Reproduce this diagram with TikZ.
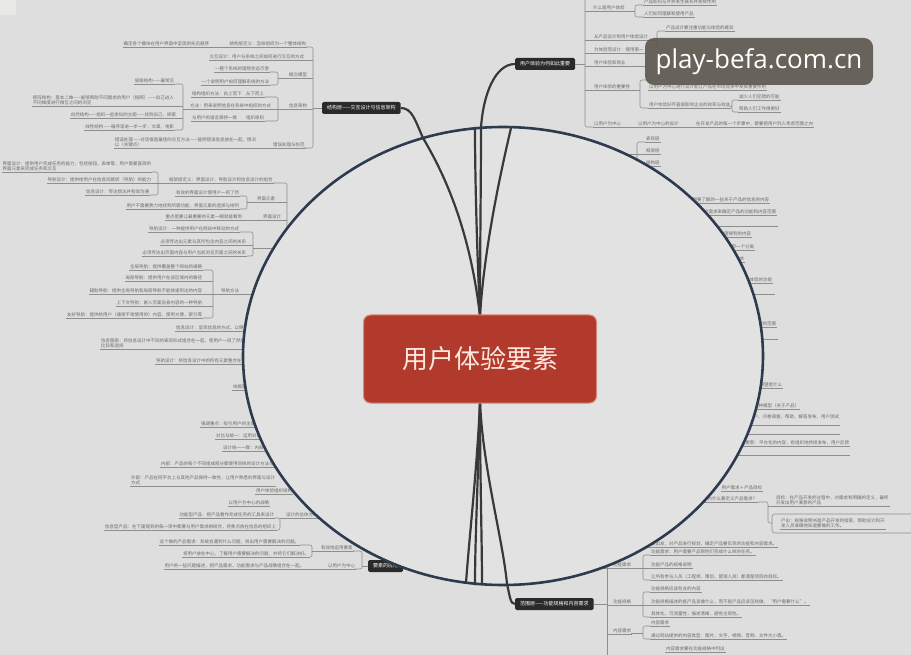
\documentclass[tikz,border=0pt]{standalone}
\usepackage{fontspec}
\newfontfamily\cjkf{Noto Sans CJK SC}
\newfontfamily\wmfont{Open Sans}
\definecolor{bg}{HTML}{DEDEDE}
\definecolor{patch}{HTML}{E8E8E5}
\definecolor{inbg}{HTML}{E2E2E2}
\definecolor{lftext}{HTML}{6A6A6A}
\definecolor{lfline}{HTML}{8E8E8E}
\definecolor{ringc}{HTML}{2E3B4E}
\definecolor{corered}{HTML}{B13A2C}
\definecolor{coreedge}{HTML}{D98A7E}
\definecolor{corewhite}{HTML}{FDE8E0}
\definecolor{dboxc}{HTML}{2A2A2A}
\definecolor{branchc}{HTML}{393939}
\definecolor{wmc}{HTML}{5E5950}
\tikzset{
 uline/.style={draw=lfline,line width=0.55pt},
 lf/.style={font=\cjkf\fontsize{4.5}{5.4}\selectfont, text=lftext, inner sep=0.8pt, align=left,
   append after command={(\tikzlastnode.south west) edge[uline] (\tikzlastnode.south east)}},
 mline/.style={draw=lfline,line width=0.55pt,rounded corners=2pt},
 dbox/.style={fill=dboxc, text=white, font=\cjkf\fontsize{5}{6}\selectfont, inner xsep=5pt, minimum height=12pt, rounded corners=1.5pt, anchor=west},
 branch/.style={draw=branchc, line width=2.2pt},
}
\newcommand\lfL[3]{\node[lf,anchor=south east] at (#1,#2) {#3};}
\newcommand\lfR[3]{\node[lf,anchor=south west] at (#1,#2) {#3};}
\begin{document}
\begin{tikzpicture}[x=1pt,y=-1pt]
\useasboundingbox (0,0) rectangle (911,655);
\fill[bg] (0,0) rectangle (911,655);
\fill[patch] (0,0) rectangle (16,15);

% ---- 结构层 branch
\lfL{210}{47}{确定各个模块在用户界面中呈现的先后顺序}
\lfL{307}{47}{结构层定义：怎样组织为一个整体结构}
\draw[uline] (210,47) -- (230,47);
\lfL{305}{60}{交互设计：用户与系统之间如何进行交互的方式}
\lfL{270}{72}{一整个系统的理想状态示意}
\lfL{270}{85}{一个说明用户如何理解系统的方法}
\draw[mline] (270,72) -- (278,72) -- (278,85) -- (270,85);
\draw[uline] (278,78) -- (288,78);
\lfR{288}{78}{概念模型}
\lfL{265}{97}{结构组织方法：自上而下　从下而上}
\lfL{272}{109}{方法：用来说明信息在系统中组织的方式}
\lfL{265}{121}{与用户的语言保持一致　　组织原则}
\draw[mline] (265,97) -- (278,97) -- (278,121) -- (265,121);
\draw[uline] (272,109) -- (288,109);
\lfR{288}{109}{信息架构}
\lfL{175}{84}{层级结构——最常见}
\lfL{175}{106}{矩阵结构：基本二维——能够帮助不同需求的用户（按照）——自己进入\\不同维度进行相互之间的浏览}
\lfL{177}{118}{自然结构——组织一些类似的主题——找到自己，探索}
\lfL{175}{130}{线性结构——循序渐进一步一步，文章，电影}
\draw[mline] (175,84) -- (183,84) -- (183,130) -- (175,130);
\draw[uline] (175,106) -- (183,106) (177,118) -- (183,118) (183,109) -- (193,109);
\lfL{257}{148}{错误处理——对话框是最佳的交互方法——能把错误信息放在一起，情况\\以（关键点）}
\lfR{272}{148}{错误处理与防范}
\draw[uline] (257,148) -- (272,148);
\draw[mline] (307,47) -- (313,47) -- (313,148) -- (304,148);
\draw[uline] (305,60) -- (313,60) (306,78) -- (313,78) (306,109) -- (313,109) (313,108) -- (322,108);
\node[dbox] (jg) at (322,108) {结构层——交互设计与信息架构};

% ---- 用户体验为何如此重要 branch
\draw[mline] (585,-5) -- (585,127) -- (593,127);
\node[dbox] (why) at (515,64) {用户体验为何如此重要};
\draw[uline] (why.east) -- (585,64);
\lfR{592}{11}{什么是用户体验}
\draw[uline] (585,11) -- (592,11) (624,11) -- (635,11);
\draw[mline] (643,5) -- (635,5) -- (635,17) -- (643,17);
\lfR{643}{5}{产品如何与外界发生联系并发挥作用}
\lfR{643}{17}{人们如何理解和使用产品}
\lfR{593}{40}{从产品设计到用户体验设计}
\draw[uline] (585,40) -- (593,40) (647,40) -- (657,40);
\draw[mline] (665,31) -- (657,31) -- (657,48) -- (665,48);
\lfR{665}{31}{产品设计要注重功能与体验的差异}
\lfR{593}{53}{为体验而设计：使用第一}
\lfR{593}{66}{用户体验和商业}
\draw[uline] (585,53) -- (593,53) (585,66) -- (593,66) (625,66) -- (648,66);
\lfR{593}{90}{用户体验的重要性}
\draw[uline] (585,90) -- (593,90) (629,90) -- (640,90);
\draw[mline] (648,80) -- (640,80) -- (640,108) -- (648,108);
\lfR{648}{90}{以用户为中心进行设计能让产品在市场竞争中发挥重要作用}
\lfR{648}{108}{用户体验好坏直接影响企业的效率与效益}
\draw[mline] (738,100) -- (732,100) -- (732,112) -- (738,112);
\draw[uline] (730,106) -- (732,106);
\lfR{738}{100}{减少人们犯错的可能}
\lfR{738}{112}{帮助人们工作得更好}
\lfR{593}{127}{以用户为中心}
\lfR{637}{127}{以用户为中心的设计}
\lfR{695}{127}{在开发产品的每一个步骤中，都要把用户列入考虑范围之内}
\draw[uline] (620,127) -- (637,127) (678,127) -- (695,127);

% ---- right side near ring
\draw[mline] (645,142) -- (637,142) -- (637,166) -- (645,166);
\draw[uline] (620,154) -- (645,154);
\lfR{645}{142}{表现层}
\lfR{645}{154}{框架层}
\lfR{645}{166}{结构层}
\lfL{770}{203}{用户可以在这里找到他们想要了解的一些关于产品的信息的内容}
\lfL{777}{215}{需要根据产品的目标和用户需求来确定产品的功能和内容范围}
\draw[uline] (690,226) -- (778,226);
\lfL{752}{237}{是用户最希望得到的内容}
\lfL{755}{250}{以及它们之间的区别与联系，即一个分离}
\lfL{745}{262}{功能规格和内容需求}
\lfL{773}{283}{一些能提升用户体验的功能}
\draw[uline] (700,294) -- (775,294);
\lfL{777}{327}{产品的功能和内容的范围}
\draw[uline] (720,339) -- (778,339);
\lfL{783}{388}{用户的期望是什么}
\lfL{800}{409}{三种模型（关于产品）}
\lfL{840}{425}{访问用户、问卷调查、帮助、解答发布、用户测试\\统计}
\draw[uline] (720,434) -- (840,434);
\lfL{850}{446}{持续更新：平台化的内容，有组织地持续发布，用户反馈}
\draw[uline] (700,455) -- (850,455);
\lfL{763}{491}{用户需求＋产品目标}
\lfL{758}{502}{如何确定需求——为什么要定义产品需求？}
\draw[mline] (758,502) -- (768,502) -- (768,523) -- (772,523);
\draw[uline] (768,506) -- (775,506);
\lfR{775}{506}{目标：在产品开发的过程中，对需求有明确的定义，最终\\开发出用户满意的产品}
\draw[mline,rounded corners=3pt] (772,514) rectangle (930,533);
\lfR{780}{529}{产出：规格说明书是产品开发的指南，帮助设计和开\\发人员准确地知道要做的工作。}
\lfL{778}{547}{我们要从产品的角度出发，对产品进行规划，确定产品要实现的功能和内容需求。}

% ---- 范围层 branch
\node[dbox] (fw) at (515,604) {范围层——功能规格和内容需求};
\draw[mline] (607,566) -- (607,660);
\draw[uline] (fw.east) -- (607,604);
\draw[uline] (590,568) -- (612,568) (631,568) -- (643,568);
\lfR{612}{568}{功能需求}
\draw[mline] (650,555) -- (643,555) -- (643,580) -- (650,580);
\lfR{650}{555}{功能需求：用户需要产品帮他们完成什么样的任务。}
\lfR{650}{568}{功能产品的规格说明}
\draw[uline] (643,568) -- (650,568);
\lfR{650}{580}{让所有参与人员（工程师、策划、营销人员）都清楚项目的目标。}
\lfR{612}{605}{功能规格}
\draw[uline] (607,605) -- (612,605) (631,605) -- (650,605);
\draw[mline] (650,592) -- (643,592) -- (643,617) -- (650,617);
\lfR{650}{592}{功能规格应该包含的内容}
\lfR{650}{605}{功能规格描述的是产品该做什么，而不是产品应该怎样做，“用户需要什么”。}
\lfR{650}{617}{具体化，可测量性，描述清晰，避免主观性。}
\lfR{612}{634}{内容需求}
\draw[uline] (607,634) -- (612,634) (631,633) -- (643,633);
\draw[mline] (650,626) -- (643,626) -- (643,639) -- (650,639);
\lfR{650}{626}{内容需求}
\lfR{650}{639}{通过网站提供的内容类型：图片、文字、视频、音频、文件大小等。}
\lfR{665}{652}{内容需求要在功能规格中列出}

% ---- 框架层 (left middle)
\lfL{152}{172}{界面设计：提供用户完成任务的能力，包括按钮、表单等，用户需要直观的\\界面元素来完成任务和交互}
\lfL{152}{183}{导航设计：提供给用户在信息间跳转（导航）的能力}
\lfL{150}{195}{信息设计：传达想法并有效沟通}
\draw[mline] (152,172) -- (158,172) -- (158,195) -- (150,195);
\draw[uline] (152,183) -- (168,183);
\lfR{168}{183}{框架层定义：界面设计、导航设计和信息设计的组合}
\draw[mline] (273,183) -- (287,183) -- (287,240);
\lfL{240}{196}{有效的界面设计使用户一目了然}
\lfL{240}{209}{用户不需要费力地找到所需功能，界面元素的选择与排列}
\draw[mline] (240,196) -- (247,196) -- (247,209) -- (240,209);
\draw[uline] (247,202) -- (256,202) (276,202) -- (287,202);
\lfR{256}{202}{界面元素}
\lfL{243}{220}{重点是要让最重要的元素一眼就能看到}
\lfR{262}{220}{界面设计}
\draw[uline] (243,220) -- (262,220) (281,220) -- (287,220);
\lfL{240}{232}{导航设计：一种提供用户在网站中移动的方式}
\lfL{247}{245}{必须传达出元素与其所包含内容之间的关系}
\lfL{247}{256}{必须传达出页面内容与用户当前浏览页面之间的关系}
\draw[mline] (240,232) -- (253,232) -- (253,256) -- (247,256);
\draw[uline] (247,245) -- (253,245) (253,248) -- (290,248);
\lfL{203}{270}{全局导航：提供覆盖整个网站的通路}
\lfL{203}{281}{局部导航：提供用户在该区域内的路径}
\lfL{203}{294}{辅助导航：提供全局导航和局部导航不能快速到达的内容}
\lfL{203}{306}{上下文导航：嵌入页面自身内容的一种导航}
\lfL{203}{318}{友好导航：提供给用户（通常不常使用的）内容，使用方便，索引等}
\draw[mline] (203,270) -- (213,270) -- (213,318) -- (203,318);
\draw[uline] (203,281) -- (213,281) (203,294) -- (220,294) (203,306) -- (213,306);
\lfR{220}{294}{导航方法}
\draw[uline] (240,294) -- (270,294);
\lfR{175}{331}{信息设计：呈现信息的方式，以便用户理解，有效地}
\lfR{100}{349}{信息图表：将信息设计中不同的表现形式组合在一起，使用户一目了然地进行\\比较和选择}
\lfR{155}{364}{导航设计：将信息设计中的所有元素整合在一起}
\lfR{232}{390}{线框图：整合三者}
\lfR{200}{427}{强调重点：吸引用户的注意力}
\lfR{215}{439}{对比与统一：运用对比来吸引用户}
\lfR{222}{451}{设计统一一致：内部与外部}
\lfR{160}{467}{内部：产品的每个不同组成部分都使用同样的设计方法与风格}
\lfR{130}{486}{外部：产品在同平台上与其他产品保持一致性，让用户熟悉的界面与设计\\方式}

% ---- 要素的应用 (lower left)
\lfR{255}{494}{用户体验组织结构}
\lfL{270}{506}{以用户为中心的战略}
\lfL{275}{518}{功能型产品：把产品看作完成任务的工具来设计}
\lfL{277}{530}{信息型产品：在下面提到的每一项中都要与用户需求相结合，将焦点放在信息的组织上}
\draw[mline] (275,518) -- (280,518) -- (280,530) -- (277,530);
\draw[uline] (280,518) -- (285,518);
\lfR{285}{518}{设计的总体方向}
\lfL{300}{545}{这个做的产品需求：系统会遇到什么问题，找出用户需要解决的问题。}
\lfL{310}{557}{将用户放在中心，了解用户需要解决的问题，并将它们解决好。}
\lfL{305}{569}{用户的一些问题描述，把产品需求、功能需求与产品战略组合在一起。}
\draw[mline] (300,545) -- (312,545) -- (312,557) -- (310,557);
\draw[uline] (312,551) -- (320,551) (305,569) -- (327,569);
\lfR{320}{551}{有效地运用要素}
\lfR{327}{569}{以用户为中心}
\draw[mline] (353,551) -- (362,551) -- (362,569) -- (355,569);
\draw[uline] (362,566) -- (368,566);
\node[dbox] (app) at (368,566) {要素的应用};

% ---- ring cover
\path[fill=inbg] (503,356) ellipse [x radius=260pt, y radius=229pt];

% ---- main branches
\coordinate (ctop) at (480,316);
\coordinate (cbot) at (480,402);
\draw[branch] (ctop) .. controls (470,230) and (445,175) .. (423,138) .. controls (415,120) and (412,108) .. (jg.east);
\draw[branch] (ctop) .. controls (477,250) and (475,180) .. (475,128);
\draw[branch] (ctop) .. controls (480,250) and (481,180) .. (481,128) .. controls (483,95) and (495,64) .. (why.west);
\draw[branch] (ctop) .. controls (484,250) and (500,175) .. (511,128);
\draw[branch] (cbot) .. controls (477,470) and (469,540) .. (466,583);
\draw[branch] (cbot) .. controls (478,480) and (475,540) .. (475,585);
\draw[branch] (cbot) .. controls (480,480) and (482,540) .. (482,585);
\draw[branch] (cbot) .. controls (483,470) and (503,540) .. (507,584) .. controls (510,596) and (510,604) .. (fw.west);

% ---- ring outline
\draw[ringc, line width=2.6pt] (503,356) ellipse [x radius=260pt, y radius=229pt];

% ---- central topic
\node[fill=corered, draw=coreedge, line width=1pt, rounded corners=7pt, minimum width=233pt, minimum height=88pt, text=corewhite, font=\cjkf\fontsize{26}{30}\selectfont] (core) at (480,359) {用户体验要素};

% ---- watermark
\node[fill=wmc, fill opacity=0.93, text opacity=1, rounded corners=9pt, minimum width=228pt, minimum height=47pt, text=white, font=\wmfont\fontsize{26}{30}\selectfont] (wm) at (759,61.5) {play-befa.com.cn};
\end{tikzpicture}
\end{document}
